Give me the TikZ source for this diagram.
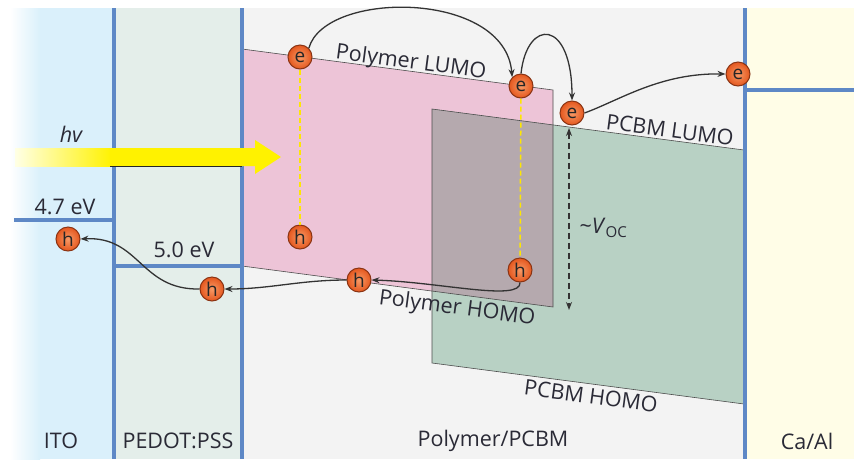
\documentclass[tikz,border=0pt]{standalone}
\usepackage{fontspec}
\setmainfont{Open Sans}
\usetikzlibrary{arrows.meta}
\definecolor{itoblue}{HTML}{DAF0FB}
\definecolor{pedotc}{HTML}{E4EEEA}
\definecolor{midbg}{HTML}{F3F3F3}
\definecolor{caal}{HTML}{FFFDE7}
\definecolor{edgeblue}{HTML}{5E88C6}
\definecolor{pinkc}{HTML}{EDC4D7}
\definecolor{greenc}{HTML}{B8D1C4}
\definecolor{overc}{HTML}{B5A9AE}
\definecolor{arrowyellow}{HTML}{FFF200}
\definecolor{txt}{HTML}{2A2A36}
\definecolor{orin}{HTML}{F89A66}
\definecolor{orout}{HTML}{E4571E}
\definecolor{ordraw}{HTML}{8A3414}
\begin{document}
\begin{tikzpicture}[x=1pt,y=-1pt,
  font=\fontsize{21.5}{26}\selectfont,
  every node/.style={text=txt},
  wall/.style={draw=edgeblue,line width=3.5pt},
  bandedge/.style={draw=black!70,line width=0.6pt},
  particle/.style={circle,minimum size=24pt,inner sep=0pt,draw=ordraw,line width=1pt,
     inner color=orin,outer color=orout,font=\fontsize{19}{19}\selectfont,text=black!85},
  conn/.style={-{Stealth[length=8pt,width=6pt]},line width=1.3pt,draw=black!80},
  pairline/.style={draw=yellow!90!orange,line width=1.5pt,dash pattern=on 5pt off 3pt},
  vocline/.style={{Stealth[length=8pt,width=6pt]}-{Stealth[length=8pt,width=6pt]},line width=1.3pt,dash pattern=on 6pt off 4pt,draw=black!80},
  bandlabel/.style={rotate=-7.5,inner sep=0pt}]
\useasboundingbox (0,0) rectangle (854,459);
\fill[white] (0,0) rectangle (854,459);
% regions
\fill[left color=white,right color=itoblue] (10,8) rectangle (40,459);
\fill[itoblue] (39.5,8) rectangle (114,459);
\fill[pedotc] (114,8) rectangle (242,459);
\fill[midbg] (242,8) rectangle (745,459);
\fill[caal] (745,8) rectangle (854,459);
% bands
\fill[pinkc] (242,49) -- (553,90) -- (553,307) -- (242,266) -- cycle;
\fill[greenc] (432,109) -- (744,150) -- (744,404) -- (432,363) -- cycle;
\fill[overc] (432,109) -- (553,125) -- (553,307) -- (432,291) -- cycle;
\draw[bandedge] (242,49) -- (553,90) -- (553,307) -- (242,266);
\draw[bandedge] (744,150) -- (432,109) -- (432,363) -- (744,404);
% walls
\draw[wall] (114,8) -- (114,459);
\draw[wall] (242,8) -- (242,459);
\draw[wall] (745,8) -- (745,459);
\draw[wall] (14,220) -- (114,220);
\draw[wall] (114,266) -- (242,266);
\draw[wall] (745,90) -- (854,90);
% light arrow
\fill[left color=yellow!10!white,right color=arrowyellow] (15,148) rectangle (112,166);
\fill[arrowyellow] (110,148) -- (255,148) -- (255,140) -- (281,157) -- (255,174) -- (255,166) -- (110,166) -- cycle;
\draw[black!85,line width=1pt] (110,166) -- (242,166);
\node (hv) at (71,134) {\itshape hv};
% labels
\node (l47) at (65,207) {4.7 eV};
\node (l50) at (184,250) {5.0 eV};
\node (ito) at (61,441) {ITO};
\node (pedot) at (178,441) {PEDOT:PSS};
\node (mid) at (493,441) {Polymer/PCBM};
\node (ca) at (807,441) {Ca/Al};
\node[bandlabel] (plumo) at (411,63) {Polymer LUMO};
\node[bandlabel] (clumo) at (670,130) {PCBM LUMO};
\node[bandlabel] (phomo) at (457,309) {Polymer HOMO};
\node[bandlabel] (chomo) at (591,396) {PCBM HOMO};
% particles
\node[particle] (e1) at (300,57) {e};
\node[particle] (e2) at (521,86) {e};
\node[particle] (e3) at (572,113) {e};
\node[particle] (e4) at (738,74) {e};
\node[particle] (h1) at (300,237) {h};
\node[particle] (h2) at (520,270) {h};
\node[particle] (h3) at (359,280) {h};
\node[particle] (h4) at (212,289) {h};
\node[particle] (h5) at (68,239) {h};
% pair lines
\draw[pairline] (e1) -- (h1);
\draw[pairline] (e2) -- (h2);
% transfers
\draw[conn] (e1.north east) .. controls (325,-10) and (505,-10) .. (e2.north west);
\draw[conn] (e2.north) .. controls (527,18) and (572,18) .. (e3.north);
\draw[conn] (e3.east) .. controls (620,100) and (660,73) .. (e4.west);
\draw[conn] (h2.south) .. controls (521,302) and (440,282) .. (h3.east);
\draw[conn] (h3.west) .. controls (300,280) and (270,289) .. (h4.east);
\draw[conn] (h4.west) .. controls (140,290) and (140,236) .. (h5.east);
% Voc
\coordinate (vtop) at (569,128);
\coordinate (vbot) at (569,310);
\draw[vocline] (vtop) -- (vbot);
\node[anchor=west] (voc) at (576,228) {\textasciitilde\textit{V}\textsubscript{OC}};
\end{tikzpicture}
\end{document}
